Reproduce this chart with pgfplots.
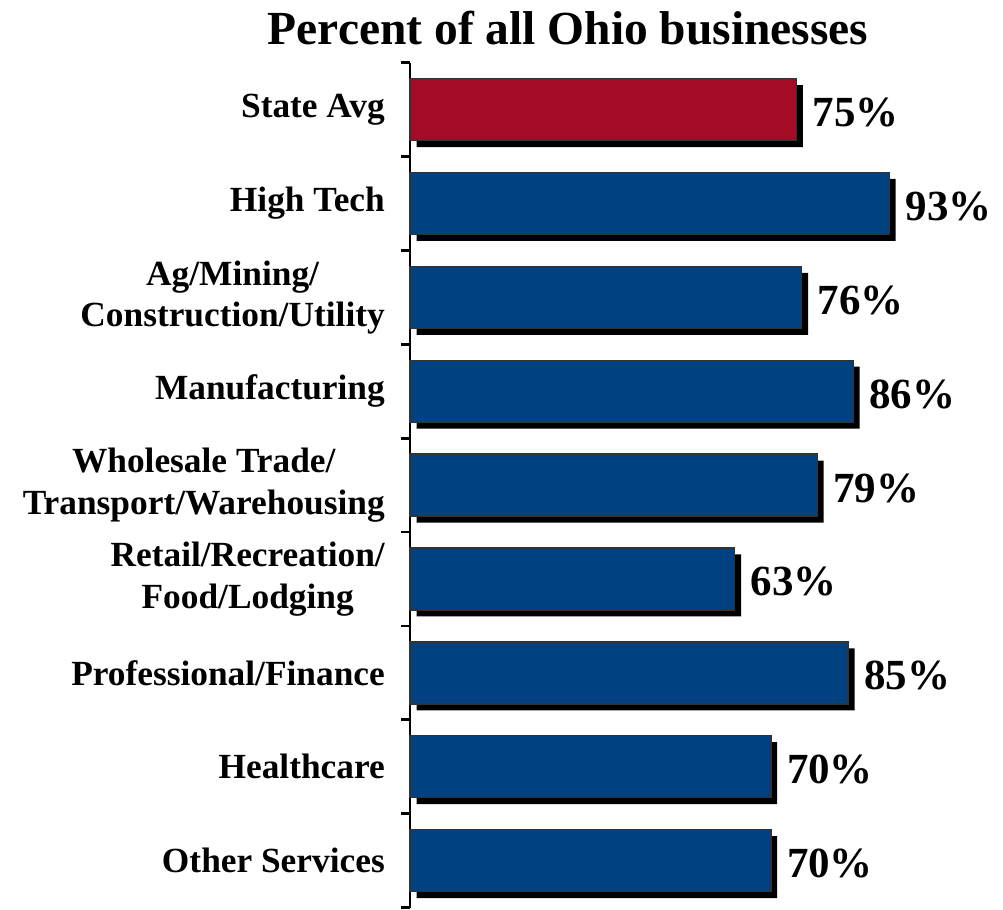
\documentclass[border=0pt]{standalone}
\usepackage{pgfplots}
\pgfplotsset{compat=1.18}
\usepackage{fontspec}
\setmainfont{Liberation Serif}
\definecolor{barred}{RGB}{163,11,38}
\definecolor{barblue}{RGB}{0,66,128}
\begin{document}
\begin{tikzpicture}
\begin{axis}[
  scale only axis,
  width=5.87cm, height=8.57cm,
  xmin=0, xmax=112.3,
  ymin=-0.5, ymax=8.5,
  y dir=reverse,
  axis x line=none,
  axis y line*=left,
  y axis line style={line width=0.8pt, -},
  ytick={-0.5,0.5,...,8.5},
  yticklabels={},
  tick align=outside,
  major tick length=0.09cm,
  y tick style={line width=0.8pt, black},
  extra y ticks={0,...,8},
  extra y tick labels={State Avg, High Tech, Ag/Mining/\\Construction/Utility, Manufacturing,
    Wholesale Trade/\\Transport/Warehousing, Retail/Recreation/\\Food/Lodging,
    Professional/Finance, Healthcare, Other Services},
  extra y tick style={major tick length=0pt},
  yticklabel style={font=\fontsize{10.2pt}{12pt}\selectfont\bfseries, align=center, inner sep=0pt, xshift=-0.25cm},
  /pgf/number format/assume math mode=true,
  clip=false,
]
% shadows
\addplot[xbar, bar shift=0pt, bar width=0.66, fill=black, draw=none,
  xshift=0.065cm, yshift=-0.065cm, forget plot] coordinates {
  (75,0) (93,1) (76,2) (86,3) (79,4) (63,5) (85,6) (70,7) (70,8)
};
\addplot[xbar, bar shift=0pt, bar width=0.66, fill=barred, draw=black!80, line width=0.4pt,
  nodes near coords={\pgfmathprintnumber{\pgfplotspointmeta}\%},
  nodes near coords style={font=\fontsize{12.4pt}{14pt}\selectfont\bfseries, anchor=west, xshift=0.04cm, yshift=-0.03cm}]
  coordinates {(75,0)};
\addplot[xbar, bar shift=0pt, bar width=0.66, fill=barblue, draw=black!80, line width=0.4pt,
  nodes near coords={\pgfmathprintnumber{\pgfplotspointmeta}\%},
  nodes near coords style={font=\fontsize{12.4pt}{14pt}\selectfont\bfseries, anchor=west, xshift=0.04cm, yshift=-0.03cm}]
  coordinates {
  (93,1) (76,2) (86,3) (79,4) (63,5) (85,6) (70,7) (70,8)
};
\node[anchor=base, font=\fontsize{13.7pt}{16pt}\selectfont\bfseries]
  at ([yshift=0.18cm]rel axis cs:0.273,1) {Percent of all Ohio businesses};
\path ([xshift=-4.16cm]rel axis cs:0,0.5) coordinate (leftedge);
\useasboundingbox (leftedge);
\end{axis}
\end{tikzpicture}
\end{document}
